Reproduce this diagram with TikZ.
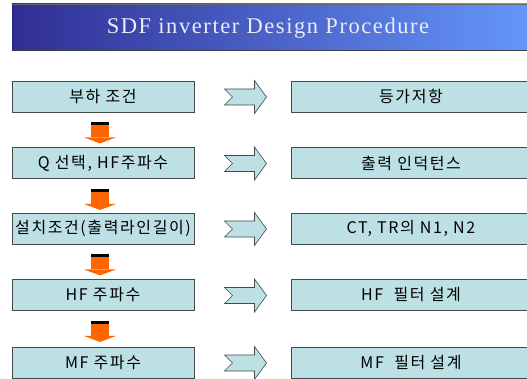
\documentclass[tikz,border=0pt]{standalone}
\usepackage{fontspec}
\setmainfont{Liberation Serif}
\newfontfamily\titlefont[LetterSpace=7]{Liberation Serif}
\newfontfamily\kr[LetterSpace=10]{Noto Sans CJK KR}
\usetikzlibrary{calc}
\definecolor{boxfill}{RGB}{188,224,227}
\definecolor{boxline}{RGB}{66,74,76}
\definecolor{tleft}{RGB}{48,46,148}
\definecolor{tright}{RGB}{102,152,252}
\definecolor{titletext}{RGB}{236,236,246}
\definecolor{orng}{RGB}{255,102,0}
\begin{document}
\begin{tikzpicture}[x=1pt,y=-1pt,
  stepbox/.style={draw=boxline, line width=0.9pt, fill=boxfill, minimum height=31pt,
    inner sep=0pt, font=\kr\fontsize{16}{16}\selectfont},
  leftbox/.style={stepbox, minimum width=182pt},
  rightbox/.style={stepbox, minimum width=240pt},
  chev/.pic={\draw[draw=boxline, fill=boxfill, line width=0.6pt]
    (-21,-8) -- (9,-8) -- (9,-16.5) -- (21,0) -- (9,16.5) -- (9,8) -- (-21,8) -- (-13,0) -- cycle;},
  downarr/.pic={
    \fill[orng] (-9,3) rectangle (9,15);
    \fill[orng] (-16,15) -- (16,15) -- (0,21) -- cycle;
    \fill[black] (-9,0) rectangle (9,3);}
]
\useasboundingbox (0,0) rectangle (527,379);
% title bar
\shade[left color=tleft, right color=tright] (12,4) rectangle (540,51);
\draw[gray!80!black, line width=0.8pt] (12,4) -- (540,4);
\draw[black!75, line width=1pt] (12,51) -- (540,51);
\draw[tleft!80!black, line width=0.8pt] (12,4) -- (12,51);
\node[text=titletext, font=\titlefont\fontsize{22.5}{22.5}\selectfont] (title) at (268,28) {SDF inverter Design Procedure};
% left boxes
\node[leftbox] (l1) at (103,96.5) {부하 조건};
\node[leftbox] (l2) at (103,163) {Q 선택, HF주파수};
\node[leftbox] (l3) at (103,228.5) {설치조건(출력라인길이)};
\node[leftbox] (l4) at (103,295) {HF 주파수};
\node[leftbox] (l5) at (103,362.5) {MF 주파수};
% right boxes
\node[rightbox] (r1) at (411,96.5) {등가저항};
\node[rightbox] (r2) at (411,163) {출력 인덕턴스};
\node[rightbox] (r3) at (411,228.5) {CT, TR의 N1, N2};
\node[rightbox] (r4) at (411,295) {HF \ 필터 설계};
\node[rightbox] (r5) at (411,362.5) {MF \ 필터 설계};
% chevrons
\foreach \i in {1,...,5}{
  \pic at ($(l\i.east)!0.5!(r\i.west)+(3,0.5)$) {chev};
}
% down arrows
\foreach \i/\j in {1/2,2/3,3/4,4/5}{
  \pic at ($(l\i.south)+(-3,10)$) {downarr};
}
\end{tikzpicture}
\end{document}
